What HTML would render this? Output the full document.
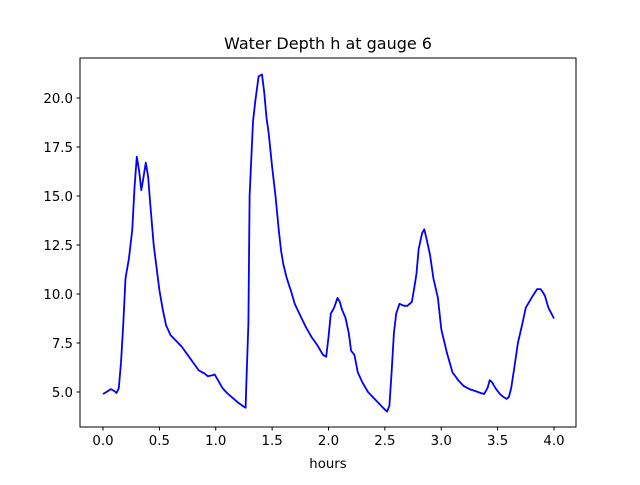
<!DOCTYPE html>
<html><head><meta charset="utf-8"><style>
body{margin:0;background:#fff;font-family:"Liberation Sans","DejaVu Sans",sans-serif;}
svg text{font-family:"DejaVu Sans","Liberation Sans",sans-serif;}
</style></head><body>
<svg id="c" width="640" height="480" xmlns="http://www.w3.org/2000/svg">
<rect width="640" height="480" fill="#fff"/>
<text x="328" y="49" text-anchor="middle" font-size="16">Water Depth h at gauge 6</text>
<text x="328" y="468" text-anchor="middle" font-size="13.3">hours</text>
<g id="ax"></g>
<path id="line" fill="none" stroke="#0000ff" stroke-width="1.8" stroke-linejoin="round"/>
<rect x="80" y="58" width="496" height="369" fill="none" stroke="#000" stroke-width="1"/>
</svg>
<script>
const hours=[0,0.03,0.07,0.1,0.12,0.14,0.16,0.18,0.2,0.23,0.26,0.28,0.3,0.32,0.34,0.355,0.38,0.4,0.42,0.45,0.5,0.53,0.56,0.6,0.65,0.7,0.75,0.8,0.85,0.9,0.93,0.97,0.99,1.02,1.06,1.1,1.15,1.2,1.25,1.265,1.27,1.29,1.3,1.33,1.35,1.38,1.41,1.43,1.45,1.47,1.5,1.53,1.56,1.58,1.6,1.63,1.67,1.7,1.75,1.8,1.85,1.9,1.95,1.98,2.0,2.02,2.05,2.08,2.1,2.12,2.15,2.18,2.2,2.23,2.26,2.3,2.35,2.4,2.45,2.5,2.52,2.54,2.56,2.58,2.6,2.63,2.67,2.7,2.74,2.76,2.78,2.8,2.83,2.85,2.87,2.9,2.93,2.97,3.0,3.05,3.1,3.15,3.2,3.25,3.3,3.35,3.38,3.41,3.43,3.45,3.48,3.52,3.55,3.58,3.6,3.62,3.65,3.68,3.72,3.75,3.8,3.85,3.88,3.9,3.92,3.95,4.0];
const depth=[4.9,5.0,5.15,5.05,4.95,5.2,6.5,8.5,10.8,11.8,13.3,15.5,17.0,16.3,15.3,15.8,16.7,16.0,14.5,12.5,10.2,9.2,8.4,7.9,7.6,7.3,6.9,6.5,6.1,5.95,5.8,5.85,5.9,5.6,5.2,4.95,4.7,4.45,4.25,4.2,5.2,8.5,15,18.8,19.8,21.1,21.2,20.3,19.0,18.2,16.5,15.0,13.2,12.2,11.5,10.8,10.1,9.5,8.9,8.3,7.8,7.4,6.9,6.8,7.8,9.0,9.3,9.8,9.6,9.2,8.8,8.0,7.1,6.9,6.0,5.5,5.0,4.7,4.4,4.1,4.0,4.3,6.0,8.0,9.0,9.5,9.4,9.4,9.6,10.3,11.0,12.3,13.1,13.3,12.8,12.0,10.8,9.8,8.2,7.0,6.0,5.6,5.3,5.15,5.05,4.95,4.9,5.2,5.6,5.5,5.2,4.9,4.75,4.65,4.75,5.2,6.3,7.5,8.5,9.3,9.8,10.25,10.25,10.1,9.9,9.3,8.75];
const xTicks=[0,0.5,1,1.5,2,2.5,3,3.5,4];
const xTickLabels=["0.0","0.5","1.0","1.5","2.0","2.5","3.0","3.5","4.0"];
const yTicks=[5,7.5,10,12.5,15,17.5,20];
const yTickLabels=["5.0","7.5","10.0","12.5","15.0","17.5","20.0"];
const xs=v=>103+v*112.75;
const ys=v=>392-(v-5)*19.6;
const NS="http://www.w3.org/2000/svg";
const ax=document.getElementById('ax');
xTicks.forEach((t,i)=>{
  const l=document.createElementNS(NS,'line');
  l.setAttribute('x1',xs(t));l.setAttribute('x2',xs(t));l.setAttribute('y1',427);l.setAttribute('y2',430.5);l.setAttribute('stroke','#000');
  
  
  ax.appendChild(l);
  const tx=document.createElementNS(NS,'text');
  tx.setAttribute('x',xs(t));tx.setAttribute('y',445);tx.setAttribute('text-anchor','middle');tx.setAttribute('font-size','13.3');
  tx.textContent=xTickLabels[i];
  
  
  ax.appendChild(tx);
});
yTicks.forEach((t,i)=>{
  const l=document.createElementNS(NS,'line');
  l.setAttribute('x1',76.5);l.setAttribute('x2',80);l.setAttribute('y1',ys(t));l.setAttribute('y2',ys(t));l.setAttribute('stroke','#000');
  
  
  ax.appendChild(l);
  const tx=document.createElementNS(NS,'text');
  tx.setAttribute('x',73);tx.setAttribute('y',ys(t)+5);tx.setAttribute('text-anchor','end');tx.setAttribute('font-size','13.3');
  tx.textContent=yTickLabels[i];
  
  
  ax.appendChild(tx);
});
document.getElementById('line').setAttribute('d',hours.map((h,i)=>(i?'L':'M')+xs(h).toFixed(1)+','+ys(depth[i]).toFixed(1)).join(''));
</script>
</body></html>
